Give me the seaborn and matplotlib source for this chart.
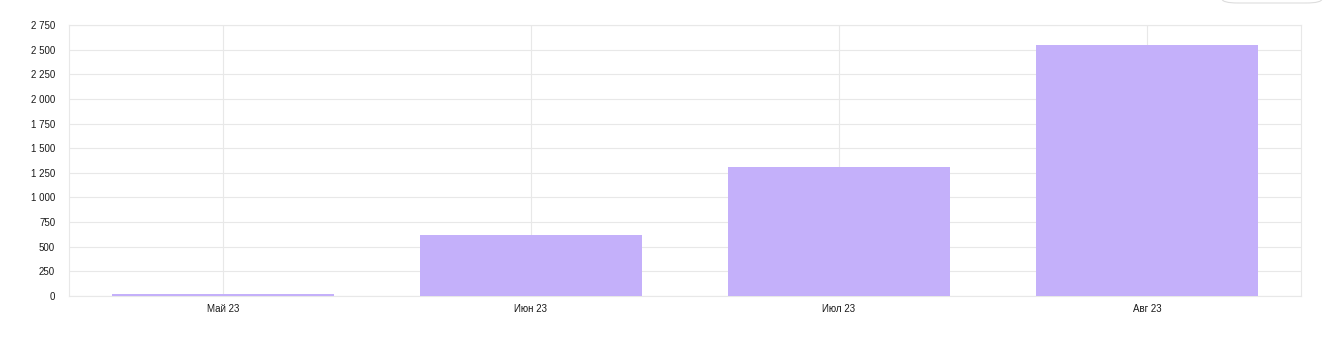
import matplotlib
matplotlib.use("Agg")
import matplotlib.pyplot as plt
import seaborn as sns
import pandas as pd
from matplotlib.patches import FancyBboxPatch
from matplotlib.ticker import FuncFormatter, MultipleLocator

categories = ["Май 23", "Июн 23", "Июл 23", "Авг 23"]
values = [20, 620, 1305, 2550]

sns.set_theme(style="white")
plt.rcParams['font.family'] = ['Liberation Sans', 'DejaVu Sans']

df = pd.DataFrame({"month": categories, "value": values})

fig = plt.figure(figsize=(13.4, 3.49), dpi=100)
ax = fig.add_axes([69/1340, 1-296/349, (1301-69)/1340, (296-25)/349])

sns.barplot(data=df, x="month", y="value", color="#c4b0fa", width=0.72,
            saturation=1, ax=ax, zorder=3, linewidth=0, edgecolor="none")

ax.set_ylim(0, 2750)
ax.set_xlim(-0.5, 3.5)
ax.yaxis.set_major_locator(MultipleLocator(250))
ax.yaxis.set_major_formatter(FuncFormatter(lambda v, p: f"{int(v):,}".replace(",", " ")))
ax.set_xlabel("")
ax.set_ylabel("")
ax.grid(True, color="#e8e8e8", linewidth=0.8, zorder=0)
ax.set_axisbelow(True)
for s in ax.spines.values():
    s.set_color("#e8e8e8")
    s.set_linewidth(0.8)
ax.tick_params(axis="both", length=0, labelsize=7, colors="#1a1a1a")
ax.tick_params(axis="y", pad=10)
ax.tick_params(axis="x", pad=6)

box = FancyBboxPatch((1222/1340, 1.0 - 3/349), 100/1340, 20/349,
                     boxstyle="round,pad=0,rounding_size=0.012",
                     transform=fig.transFigure, facecolor="white",
                     edgecolor="#dddddd", linewidth=0.8)
fig.patches.append(box)

fig.savefig("out.png", dpi=100)
